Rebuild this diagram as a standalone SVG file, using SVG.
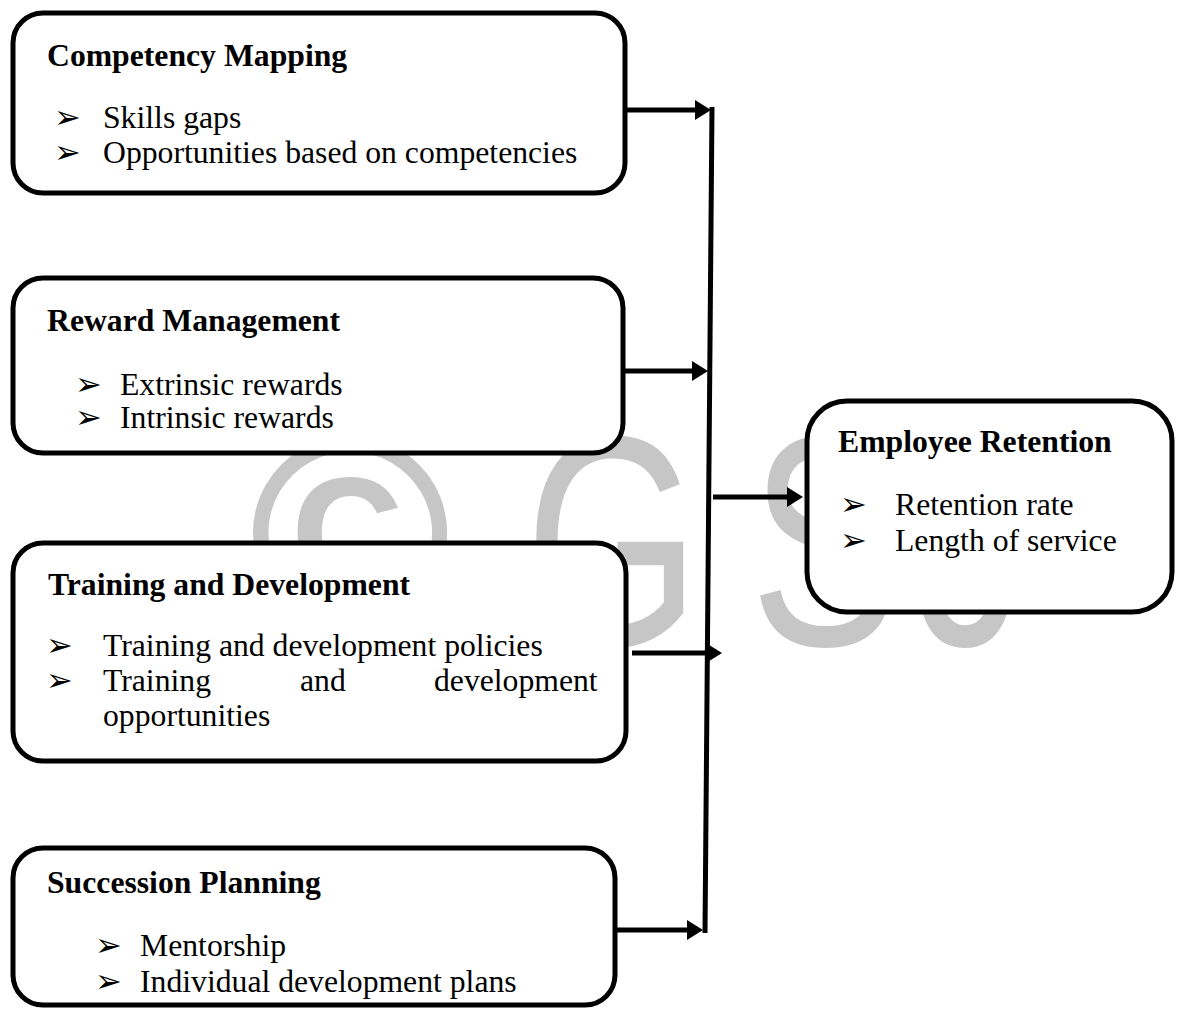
<svg xmlns="http://www.w3.org/2000/svg" width="1177" height="1011" viewBox="0 0 1177 1011">
  <defs>
    <marker id="head" markerUnits="userSpaceOnUse" markerWidth="16" markerHeight="20" refX="6" refY="10" orient="auto">
      <path d="M0,0 L16,10 L0,20 Z" fill="#000"/>
    </marker>
    <style>
      .box { fill: #fff; stroke: #000; stroke-width: 5; }
      .open { fill: none; }
      .t { font-family: "Liberation Serif", "Times New Roman", serif; font-size: 31.7px; fill: #000; }
      .h { font-weight: bold; }
      .bl { font-family: "DejaVu Sans", sans-serif; font-size: 32px; }
      .wm { font-family: "Liberation Sans", Arial, sans-serif; fill: #c6c6c6; }
      .link { fill: none; stroke: #000; stroke-width: 5; }
    </style>
  </defs>

  <rect width="1177" height="1011" fill="#fff"/>

  <!-- background watermark -->
  <g id="watermark">
    <text class="wm" x="350" y="628" font-size="275" font-weight="bold" text-anchor="middle">©</text>
    <g transform="translate(525,645) scale(0.75,1)">
      <text class="wm" x="0" y="0" font-size="300">G</text>
      <text class="wm" x="300" y="0" font-size="300">S</text>
      <text class="wm" x="520" y="0" font-size="300">J</text>
    </g>
  </g>

  <!-- connectors -->
  <g id="connectors">
    <path class="link" d="M712,107 L705,933"/>
    <line class="link" x1="625" y1="110" x2="701" y2="110" marker-end="url(#head)"/>
    <line class="link" x1="623" y1="371" x2="698" y2="371" marker-end="url(#head)"/>
    <line class="link" x1="632" y1="653" x2="712" y2="653" marker-end="url(#head)"/>
    <line class="link" x1="613" y1="930" x2="693" y2="930" marker-end="url(#head)"/>
    <line class="link" x1="713" y1="497" x2="793" y2="497" marker-end="url(#head)"/>
  </g>

  <g id="competency-mapping">
    <rect class="box" x="13" y="13" width="612" height="180" rx="30"/>
    <text class="t h" x="47" y="66">Competency Mapping</text>
    <text class="t" y="128"><tspan class="bl" x="54">➢</tspan><tspan x="103">Skills gaps</tspan></text>
    <text class="t" y="163"><tspan class="bl" x="54">➢</tspan><tspan x="103">Opportunities based on competencies</tspan></text>
  </g>

  <g id="reward-management">
    <rect class="box" x="13" y="278" width="610" height="175" rx="30"/>
    <text class="t h" x="47" y="331">Reward Management</text>
    <text class="t" y="395"><tspan class="bl" x="75">➢</tspan><tspan x="120">Extrinsic rewards</tspan></text>
    <text class="t" y="428"><tspan class="bl" x="75">➢</tspan><tspan x="120">Intrinsic rewards</tspan></text>
  </g>

  <g id="training-development">
    <rect class="box" x="13" y="543" width="613" height="218" rx="30"/>
    <text class="t h" x="48" y="595">Training and Development</text>
    <text class="t" y="656"><tspan class="bl" x="46">➢</tspan><tspan x="103">Training and development policies</tspan></text>
    <text class="t" y="691"><tspan class="bl" x="46">➢</tspan><tspan x="103">Training</tspan><tspan x="300">and</tspan><tspan x="434">development</tspan></text>
    <text class="t" x="103" y="726">opportunities</text>
  </g>

  <g id="succession-planning">
    <text class="t h" x="47" y="893">Succession Planning</text>
    <text class="t" y="956"><tspan class="bl" x="95">➢</tspan><tspan x="140">Mentorship</tspan></text>
    <text class="t" y="992"><tspan class="bl" x="95">➢</tspan><tspan x="140">Individual development plans</tspan></text>
    <rect class="box open" x="13" y="848" width="602" height="157" rx="30"/>
  </g>

  <g id="employee-retention">
    <rect class="box" x="807" y="401" width="365" height="211" rx="40"/>
    <text class="t h" x="838" y="452">Employee Retention</text>
    <text class="t" y="515"><tspan class="bl" x="840">➢</tspan><tspan x="895">Retention rate</tspan></text>
    <text class="t" y="551"><tspan class="bl" x="840">➢</tspan><tspan x="895">Length of service</tspan></text>
  </g>
</svg>
